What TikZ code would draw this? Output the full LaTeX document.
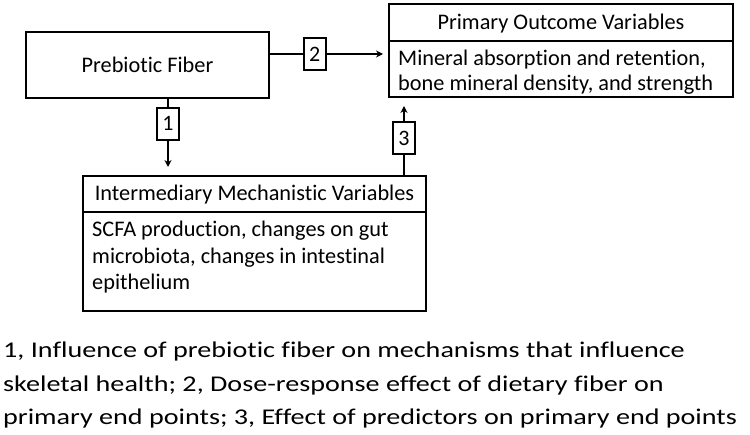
\documentclass[tikz,border=0pt]{standalone}
\usepackage{fontspec}
\setmainfont{Carlito}[Ligatures={NoCommon,NoRare,NoContextual}]
\usetikzlibrary{arrows.meta}
\begin{document}
\begin{tikzpicture}[x=1pt,y=-1pt,
  boxline/.style={draw=black,line width=2.3pt},
  numbox/.style={draw=black,line width=2pt,fill=white,minimum width=22pt,minimum height=32pt,inner sep=0pt,font=\fontsize{22}{22}\selectfont},
  conn/.style={line width=2pt,-{Stealth[length=7pt,width=7pt]}},
  boxtext/.style={font=\fontsize{22.3}{26}\selectfont,inner sep=0pt},
  captext/.style={anchor=base west,inner sep=0pt,font=\fontsize{22.5}{33.5}\selectfont},
]
\useasboundingbox (0,0) rectangle (750,435);
% Prebiotic Fiber
\node[boxline,minimum width=243pt,minimum height=66pt,inner sep=0pt,font=\fontsize{22.3}{22.3}\selectfont] (pf) at (147.5,65) {Prebiotic Fiber};
% Primary outcome
\draw[boxline] (389,4) rectangle (733,97);
\draw[boxline] (389,41) -- (733,41);
\node[boxtext,anchor=base] (povt) at (561,30) {Primary Outcome Variables};
\node[boxtext,anchor=base west] (povb1) at (398,66) {Mineral absorption and retention,};
\node[boxtext,anchor=base west] (povb2) at (398,91) {bone mineral density, and strength};
% Intermediary
\draw[boxline] (83,176) rectangle (426,311);
\draw[boxline] (83,212) -- (426,212);
\node[boxtext,anchor=base] (imvt) at (254.5,201) {Intermediary Mechanistic Variables};
\node[boxtext,anchor=base west] (imvb1) at (92,237) {SCFA production, changes on gut};
\node[boxtext,anchor=base west] (imvb2) at (92,263.5) {microbiota, changes in intestinal};
\node[boxtext,anchor=base west] (imvb3) at (92,290) {epithelium};
% connectors
\coordinate (a2s) at (269,54);
\coordinate (a2e) at (383,54);
\draw[conn] (a2s) -- node[numbox,pos=0.40] (n2) {2} (a2e);
\coordinate (a1s) at (168,98);
\coordinate (a1e) at (168,167);
\draw[conn] (a1s) -- node[numbox,pos=0.37] (n1) {1} (a1e);
\coordinate (a3s) at (404,176);
\coordinate (a3e) at (404,106);
\draw[conn] (a3s) -- node[numbox,pos=0.54] (n3) {3} (a3e);
% caption
\node[captext] (cap1) at (3,358) {\scalebox{1.25}[1]{1, Influence of prebiotic fiber on mechanisms that influence}};
\node[captext] (cap2) at (3,391.5) {\scalebox{1.25}[1]{skeletal health; 2, Dose-response effect of dietary fiber on}};
\node[captext] (cap3) at (3,425) {\scalebox{1.25}[1]{primary end points; 3, Effect of predictors on primary end points}};
\end{tikzpicture}
\end{document}
